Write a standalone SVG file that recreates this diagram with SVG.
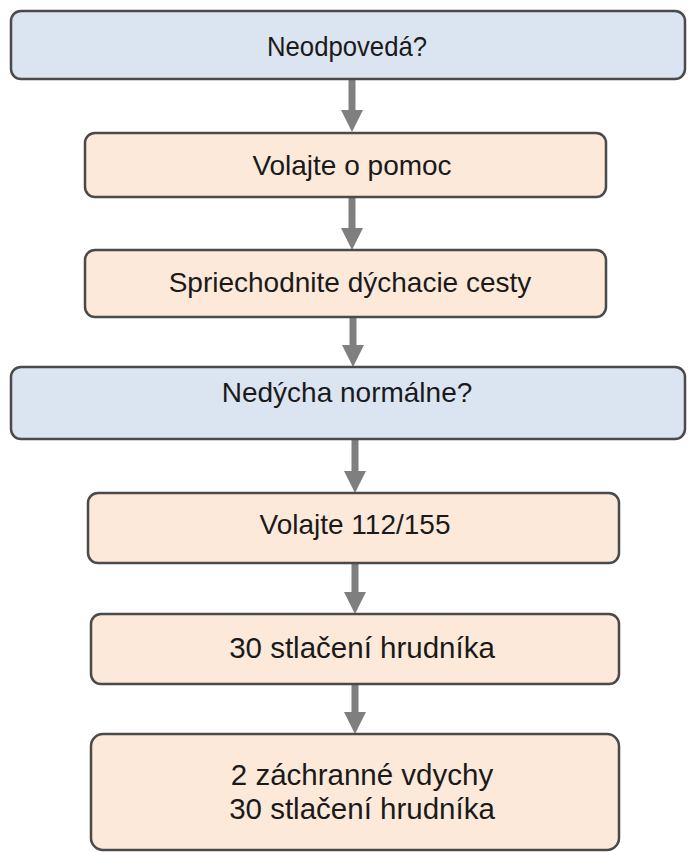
<svg xmlns="http://www.w3.org/2000/svg" width="688" height="852" viewBox="0 0 688 852">
<defs>
<style>
.blue{fill:#dbe5f1;stroke:#4a4a4a;stroke-width:2.5}
.orange{fill:#fde9d9;stroke:#4a4a4a;stroke-width:2.5}
.t{font-family:"Liberation Sans",Arial,sans-serif;font-size:28px;fill:#1a1a1a;text-anchor:middle}
.b{font-size:29.5px}
.c{stroke:#7f7f7f;stroke-width:7;fill:none}
.h{fill:#7f7f7f}
</style>
</defs>
<rect width="688" height="852" fill="#fff"/>
<g id="connectors">
<line class="c" x1="352" y1="80" x2="352" y2="112"/><polygon class="h" points="341,110 363,110 352,132"/>
<line class="c" x1="352" y1="198" x2="352" y2="230"/><polygon class="h" points="341,228 363,228 352,250"/>
<line class="c" x1="353" y1="318" x2="353" y2="347"/><polygon class="h" points="342,345 364,345 353,367"/>
<line class="c" x1="355" y1="440" x2="355" y2="473"/><polygon class="h" points="344,471 366,471 355,493"/>
<line class="c" x1="355" y1="564" x2="355" y2="594"/><polygon class="h" points="344,592 366,592 355,614"/>
<line class="c" x1="355" y1="685" x2="355" y2="714"/><polygon class="h" points="344,712 366,712 355,734"/>
</g>
<g id="n1"><rect class="blue" x="11" y="11" width="674" height="68" rx="10"/><text class="t" x="347" y="56" textLength="160" lengthAdjust="spacingAndGlyphs">Neodpovedá?</text></g>
<g id="n2"><rect class="orange" x="85" y="133" width="521" height="64" rx="10"/><text class="t" x="352" y="175">Volajte o pomoc</text></g>
<g id="n3"><rect class="orange" x="85" y="250" width="521" height="67" rx="10"/><text class="t" x="350" y="292">Spriechodnite dýchacie cesty</text></g>
<g id="n4"><rect class="blue" x="11" y="367" width="674" height="72" rx="10"/><text class="t" x="347" y="402">Nedýcha normálne?</text></g>
<g id="n5"><rect class="orange" x="88" y="493" width="531" height="70" rx="10"/><text class="t" x="355" y="534">Volajte 112/155</text></g>
<g id="n6"><rect class="orange" x="91" y="614" width="528" height="70" rx="10"/><text class="t b" x="362" y="658">30 stlačení hrudníka</text></g>
<g id="n7"><rect class="orange" x="91" y="734" width="528" height="116" rx="12"/><text class="t b" x="362" y="785">2 záchranné vdychy</text><text class="t b" x="362" y="819">30 stlačení hrudníka</text></g>
</svg>
